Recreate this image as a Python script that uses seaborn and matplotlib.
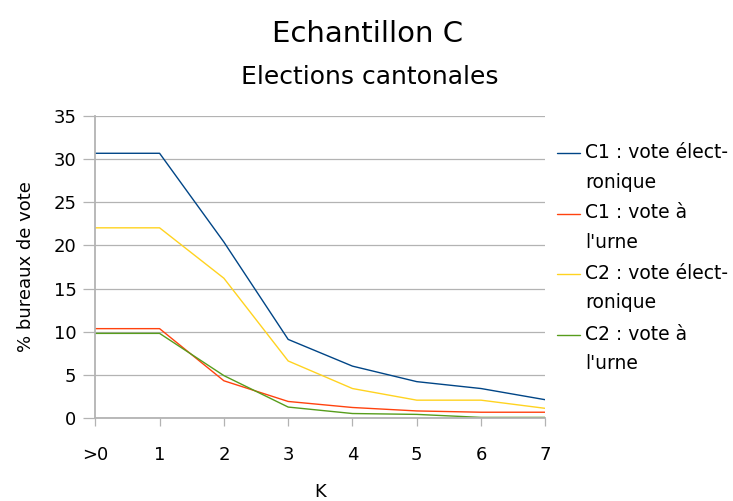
import pandas as pd
import matplotlib.pyplot as plt
from matplotlib.lines import Line2D
import seaborn as sns

# Values
k_labels = [">0", "1", "2", "3", "4", "5", "6", "7"]
c1_electronique = [30.7, 30.7, 20.4, 9.1, 6.0, 4.2, 3.4, 2.1]
c1_urne = [10.35, 10.35, 4.3, 1.9, 1.2, 0.8, 0.65, 0.65]
c2_electronique = [22.05, 22.05, 16.2, 6.6, 3.4, 2.05, 2.05, 1.1]
c2_urne = [9.8, 9.8, 4.9, 1.25, 0.5, 0.4, 0.05, 0.05]

series_names = ["C1 : vote élect-\nronique", "C1 : vote à\nl'urne",
                "C2 : vote élect-\nronique", "C2 : vote à\nl'urne"]
colors = ["#004586", "#ff420e", "#ffd320", "#579d1c"]

# Long format table for seaborn
frames = []
for name, vals in zip(series_names, [c1_electronique, c1_urne, c2_electronique, c2_urne]):
    frames.append(pd.DataFrame({"K": k_labels, "pct": vals, "serie": name}))
df = pd.concat(frames, ignore_index=True)

sns.set_theme(style="white")
plt.rcParams['font.family'] = ['DejaVu Sans']
plt.rcParams['text.color'] = 'black'
plt.rcParams['axes.labelcolor'] = 'black'

fig = plt.figure(figsize=(7.33, 5.01), dpi=100)
ax = fig.add_axes([0.13, 0.166, 0.614, 0.602])

sns.lineplot(data=df, x="K", y="pct", hue="serie", palette=colors,
             linewidth=1.0, legend=False, ax=ax, sort=False)

ax.set_xlim(0, 7)
ax.set_ylim(0, 35)
ax.set_yticks(range(0, 36, 5))
ax.yaxis.grid(True, color="#b3b3b3", linewidth=0.9)
ax.set_axisbelow(True)
for s in ["top", "right"]:
    ax.spines[s].set_visible(False)
for s in ["left", "bottom"]:
    ax.spines[s].set_color("#b3b3b3")
    ax.spines[s].set_linewidth(1.3)

ax.tick_params(axis="x", direction="out", length=6, width=0.9, color="#b3b3b3",
               pad=14, labelsize=13, labelcolor="black", bottom=True)
ax.tick_params(axis="y", direction="out", length=8.5, width=0.9, color="#b3b3b3",
               pad=5, labelsize=13, labelcolor="black", left=True)
ax.set_xlabel("K", fontsize=13, labelpad=14)
ax.set_ylabel("% bureaux de vote", fontsize=13, labelpad=13)

fig.text(0.502, 0.932, "Echantillon C", ha="center", va="center", fontsize=21)
fig.text(0.504, 0.847, "Elections cantonales", ha="center", va="center", fontsize=18)

# Legend drawn by hand: line next to the first text line
W, H = 733, 501
for i, (name, col) in enumerate(zip(series_names, colors)):
    yc = 153 + i * 60.5
    fig.add_artist(Line2D([557 / W, 580 / W], [1 - yc / H, 1 - yc / H],
                          color=col, linewidth=1.0))
    fig.text(585 / W, 1 - (yc - 10) / H, name, ha="left", va="top",
             fontsize=13.5, linespacing=1.7)

fig.savefig("out.png", dpi=100)
